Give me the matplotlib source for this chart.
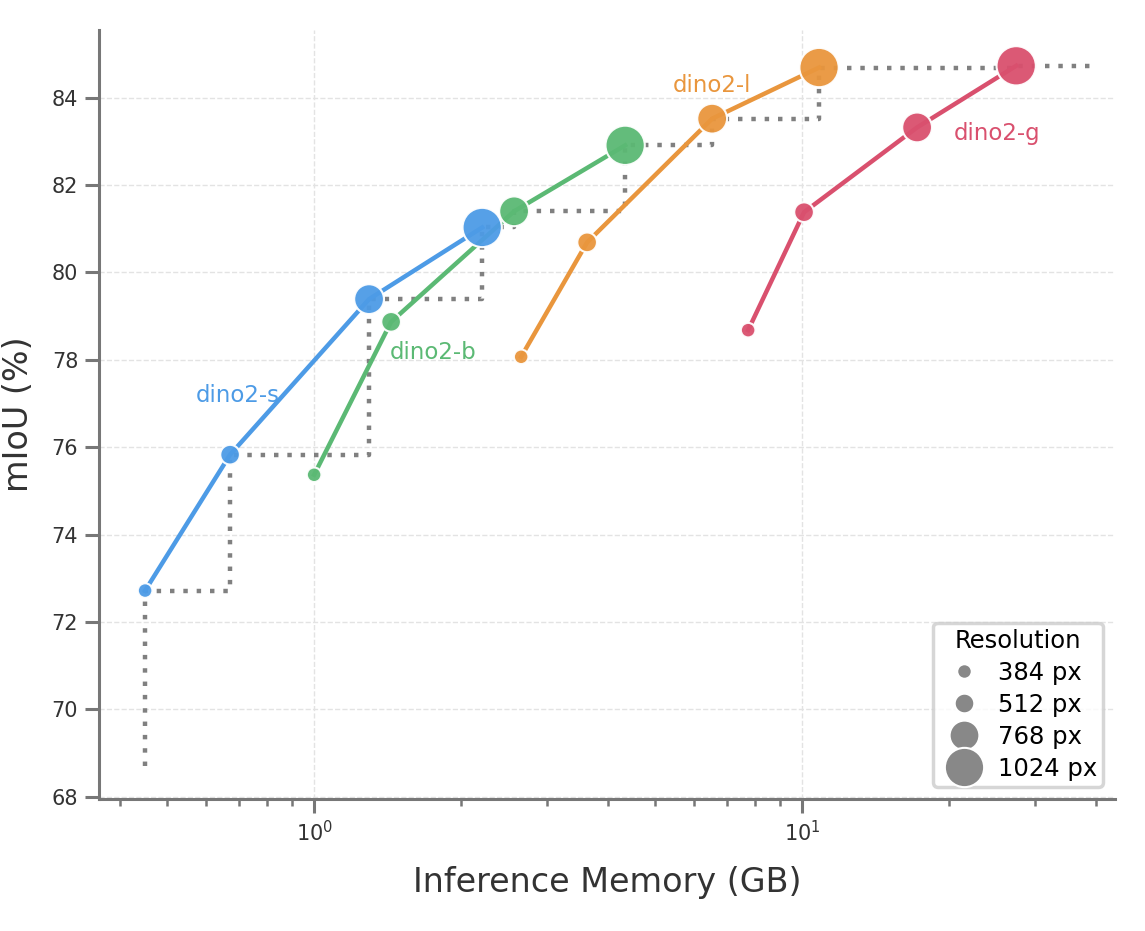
import numpy as np
import matplotlib.pyplot as plt
from matplotlib.lines import Line2D

# Data
resolutions = [384, 512, 768, 1024]
models = ['dino2-s', 'dino2-b', 'dino2-l', 'dino2-g']
memory = {
    'dino2-s': [0.4505, 0.6727, 1.296, 2.210],
    'dino2-b': [1.000, 1.438, 2.569, 4.338],
    'dino2-l': [2.656, 3.626, 6.540, 10.83],
    'dino2-g': [7.75, 10.09, 17.20, 27.45],
}
miou = {
    'dino2-s': [72.72, 75.83, 79.39, 81.03],
    'dino2-b': [75.37, 78.87, 81.40, 82.91],
    'dino2-l': [78.07, 80.69, 83.52, 84.69],
    'dino2-g': [78.68, 81.38, 83.32, 84.73],
}
label_pos = {
    'dino2-s': (0.699, 77.18),
    'dino2-b': (1.753, 78.16),
    'dino2-l': (6.54, 84.27),
    'dino2-g': (25.09, 83.18),
}
frontier_start_y = 68.7
frontier_end_x = 39.0

colors = {
    'dino2-s': '#4d9be6',
    'dino2-b': '#5bb974',
    'dino2-l': '#e9963d',
    'dino2-g': '#d9506e',
}
marker_area = {384: 110, 512: 200, 768: 460, 1024: 800}

fig = plt.figure(figsize=(11.45, 9.31), dpi=100)
ax = fig.add_axes([0.0865, 0.1418, 0.8875, 0.826])

# Pareto frontier (steps)
all_x = np.concatenate([memory[m] for m in models])
all_y = np.concatenate([miou[m] for m in models])
order = np.argsort(all_x)
fx, fy, best = [], [], -np.inf
for i in order:
    if all_y[i] > best:
        best = all_y[i]
        fx.append(all_x[i])
        fy.append(all_y[i])
step_x = [fx[0]] + fx + [frontier_end_x]
step_y = [frontier_start_y] + fy + [fy[-1]]
ax.plot(step_x, step_y, drawstyle='steps-post', color='#808080', lw=3.2,
        ls=(0, (1, 2)), zorder=2)

for m in models:
    ax.plot(memory[m], miou[m], color=colors[m], lw=3.2, zorder=3)
    ax.scatter(memory[m], miou[m], s=[marker_area[r] for r in resolutions],
               color=colors[m], edgecolor='white', linewidth=1.5, alpha=0.95, zorder=4)
    ax.text(label_pos[m][0], label_pos[m][1], m, color=colors[m], fontsize=16.5,
            ha='center', va='center')

ax.set_xscale('log')
ax.set_xlim(0.3625, 43.8)
ax.set_ylim(67.95, 85.55)
ax.set_yticks(np.arange(68, 85, 2))

ax.grid(True, which='major', color='#e3e3e3', ls='--', lw=1)
ax.set_axisbelow(True)
for s in ['top', 'right']:
    ax.spines[s].set_visible(False)
for s in ['left', 'bottom']:
    ax.spines[s].set_color('#777777')
    ax.spines[s].set_linewidth(2.2)
ax.tick_params(which='major', length=10, width=2.2, pad=5, color='#777777',
               labelsize=15, labelcolor='#333333')
ax.tick_params(which='minor', length=5, width=1.8, color='#777777')

ax.set_xlabel('Inference Memory (GB)', fontsize=24, color='#333333', labelpad=15)
ax.set_ylabel('mIoU (%)', fontsize=24, color='#333333', labelpad=12)

handles = [Line2D([], [], ls='', marker='o', markersize=np.sqrt(marker_area[r]),
                  markerfacecolor='#888888', markeredgecolor='white', markeredgewidth=1.5)
           for r in resolutions]
leg = ax.legend(handles, [f'{r} px' for r in resolutions], title='Resolution',
                loc='lower right', fontsize=17.5, title_fontsize=17.5, frameon=True,
                handletextpad=0.4, labelspacing=0.33, borderpad=0.25, fancybox=True)
leg.get_frame().set_edgecolor('#cccccc')
leg.get_frame().set_linewidth(2.5)

plt.savefig('out.png', dpi=100)
